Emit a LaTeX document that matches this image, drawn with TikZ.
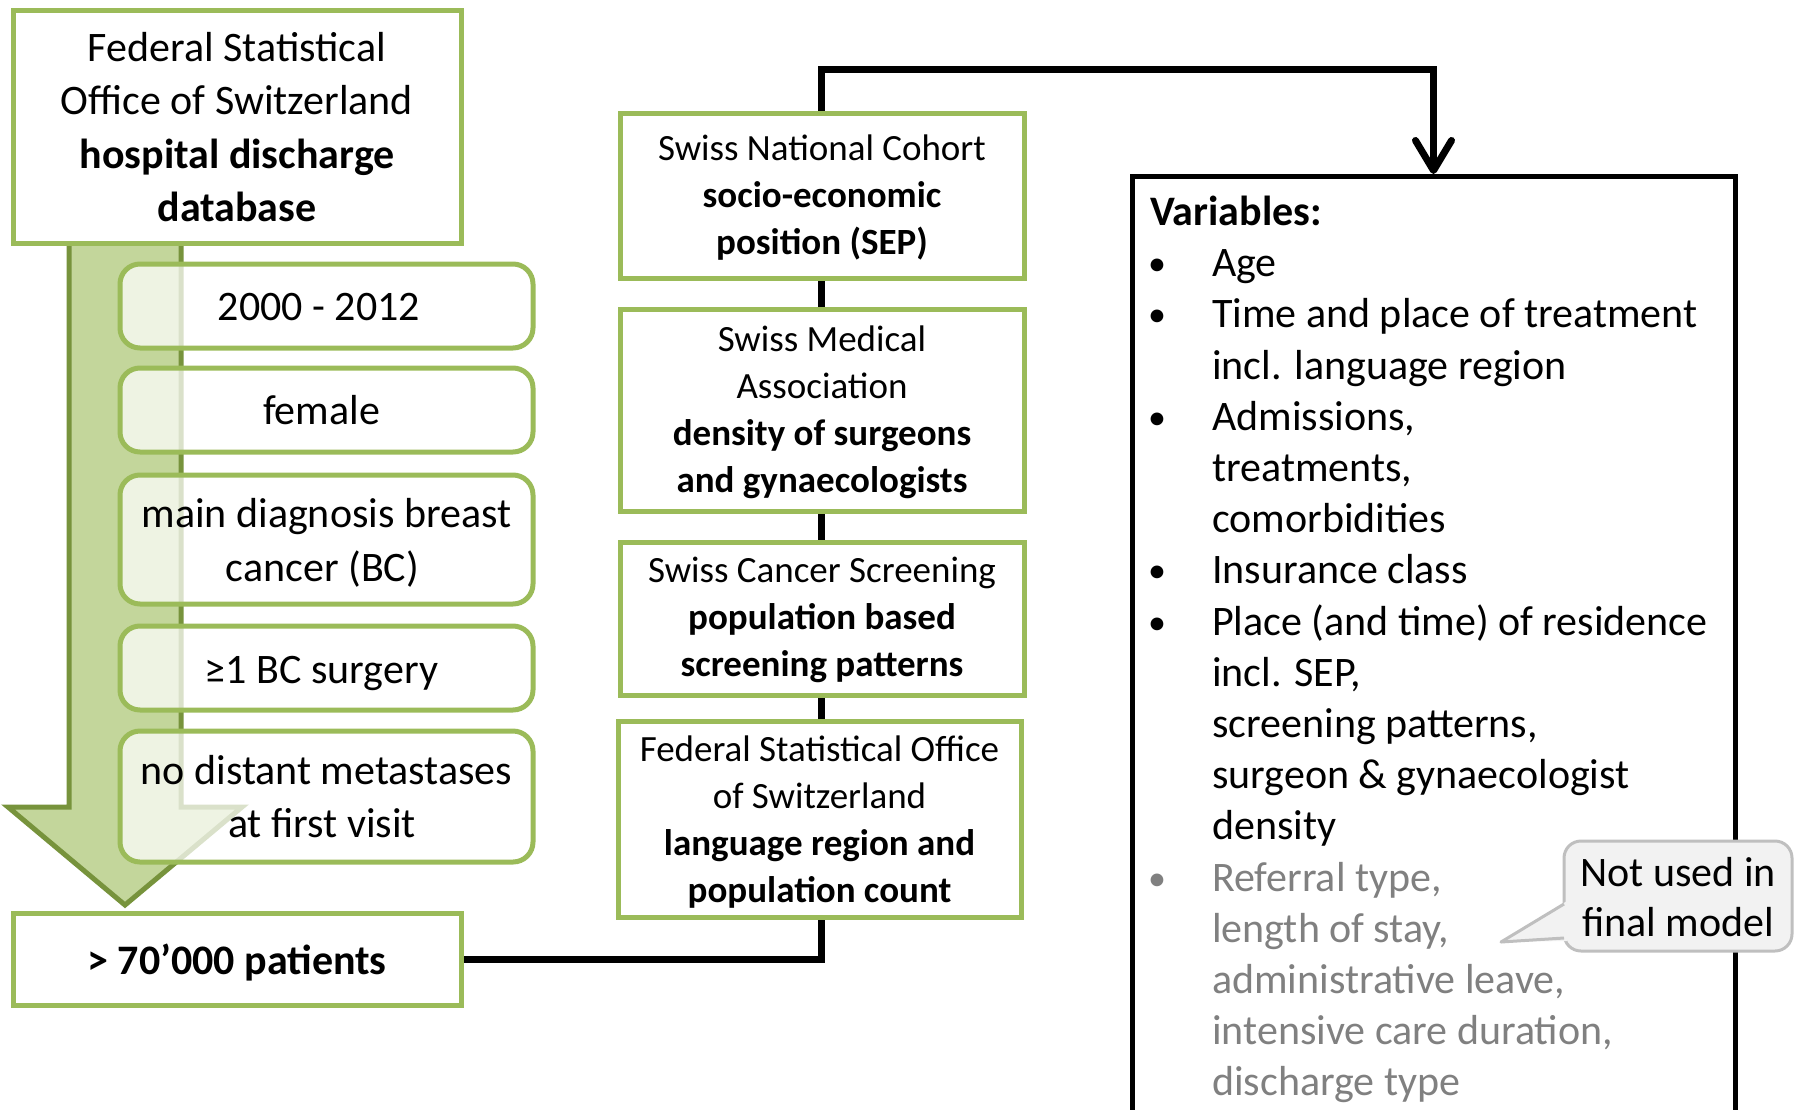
\documentclass[tikz,border=0pt]{standalone}
\usepackage{fontspec}
\setmainfont{Carlito}
\usetikzlibrary{arrows.meta}
\definecolor{boxgreen}{HTML}{9BBB59}
\definecolor{arrowfill}{HTML}{C3D69B}
\definecolor{arrowline}{HTML}{77933C}
\definecolor{greytext}{HTML}{808080}
\definecolor{notefill}{HTML}{F2F2F2}
\definecolor{noteline}{HTML}{BFBFBF}
\pgfdeclarelayer{background}
\pgfsetlayers{background,main}
\newcommand{\fntA}{\fontsize{42}{53.4}\selectfont}
\newcommand{\fntB}{\fontsize{37}{47}\selectfont}
\newcommand{\fntC}{\fontsize{42}{51.2}\selectfont}
\newcommand{\fntD}{\fontsize{42}{50}\selectfont}
\newcommand{\bul}{\makebox[62pt][l]{\hspace{-2pt}{\fontsize{36}{36}\selectfont\raisebox{1pt}{•}}}}
\newcommand{\ind}{\makebox[62pt][l]{}}
\newcommand{\nudge}[1]{\mbox{}\kern-#1pt}
\newcommand{\fl}[1]{\rule{0pt}{#1pt}}
\begin{document}
\begin{tikzpicture}[x=1pt,y=-1pt,
  topstrut/.style={execute at begin node={\rule{0pt}{#1pt}}, execute at end node=\strut},
  srcbox/.style={draw=boxgreen, line width=5pt, fill=white, align=center, inner sep=0pt},
  filtbox/.style={draw=boxgreen, line width=5pt, fill=white, fill opacity=0.73,
    text opacity=1, rounded corners=20pt, align=center, inner sep=0pt,
    minimum width=413pt, font=\fntA},
  midbox/.style={srcbox, minimum width=404pt, font=\fntB, topstrut=48},
  conn/.style={line width=7pt, black},
  bigarrow/.style={fill=arrowfill, draw=arrowline, line width=5pt},
  varbox/.style={draw=black, line width=5pt, minimum width=603pt, minimum height=1000pt, inner sep=0pt},
  notebox/.style={draw=noteline, fill=notefill, line width=3pt, rounded corners=17pt,
    minimum width=228pt, minimum height=110pt, align=center, inner sep=0pt, font=\fntD,
    topstrut=53}
]
\useasboundingbox (0,0) rectangle (1794,1109);
\clip (0,0) rectangle (1794,1109);

% left column
\node[srcbox, font=\fntA, topstrut=55, minimum width=448pt, minimum height=233pt] (hdb) at (237,126.5)
  {\fl{46}Federal Statistical\\Office of Switzerland\\\textbf{hospital discharge}\\\textbf{database}};
\node[filtbox, topstrut=46, minimum height=84pt] (f1) at (326.5,306) {\nudge{15}2000 - 2012};
\node[filtbox, topstrut=46, minimum height=84pt] (f2) at (326.5,410) {\nudge{10}female};
\node[filtbox, topstrut=55, minimum height=129pt] (f3) at (326.5,539.5) {\fl{46}main diagnosis breast\\\nudge{8}cancer (BC)};
\node[filtbox, topstrut=46, minimum height=84pt] (f4) at (326.5,668) {\nudge{10}≥1 BC surgery};
\node[filtbox, topstrut=55, minimum height=131pt] (f5) at (326.5,796.5) {\fl{45}no distant metastases\\\nudge{9}at first visit};
\node[srcbox, font=\fntA, topstrut=46, minimum width=448pt, minimum height=92pt] (pat) at (237,959)
  {\textbf{> 70’000 patients}};

% middle column
\node[midbox, minimum height=165pt] (snc) at (822,195.5)
  {\fl{38}Swiss National Cohort\\\textbf{socio-economic}\\\textbf{position (SEP)}};
\node[midbox, minimum height=202pt] (sma) at (822,410)
  {\fl{38}Swiss Medical\\Association\\\textbf{density of surgeons}\\\textbf{and gynaecologists}};
\node[midbox, minimum height=153pt] (scs) at (822,618.5)
  {\fl{36}Swiss Cancer Screening\\\textbf{population based}\\\textbf{screening patterns}};
\node[midbox, minimum width=403pt, minimum height=187pt] (fso) at (819.5,819.5)
  {\fl{40}Federal Statistical Office\\of Switzerland\\\textbf{language region and}\\\textbf{population count}};

% variables box
\node[varbox, anchor=north] (vars) at (1433.5,174) {};
\node[anchor=north west, align=left, inner sep=0pt, font=\fntC] (vtext) at (1150,189.5)
 {\strut\textbf{Variables:}\\
  \bul Age\\
  \bul Time and place of treatment\\
  \ind incl. language region\\
  \bul Admissions,\\
  \ind treatments,\\
  \ind comorbidities\\
  \bul Insurance class\\
  \bul Place (and time) of residence\\
  \ind incl. SEP,\\
  \ind screening patterns,\\
  \ind surgeon \& gynaecologist\\
  \ind density\\
  {\color{greytext}\bul Referral type,}\\
  {\color{greytext}\ind length of stay,}\\
  {\color{greytext}\ind administrative leave,}\\
  {\color{greytext}\ind intensive care duration,}\\
  {\color{greytext}\ind discharge type}};

% callout
\node[notebox] (note) at (1678,896) {\fl{45}Not used in\\final model};
\fill[notefill] (1567,901) -- (1501,942) -- (1567,941) -- cycle;
\draw[noteline, line width=3pt, line join=round] (1564,904) -- (1501,942) -- (1564,938);

\coordinate (ctop) at (821.5,69);
\coordinate (ctopr) at (1433.5,69);

\begin{pgfonlayer}{background}
  \draw[bigarrow] (69,240) -- (69,807) -- (8,807) -- (125,905) -- (242,807) -- (181,807) -- (181,240);
  \draw[conn, -{Straight Barb[length=30pt, width=36pt, round]}]
    (pat.east) -| (ctop) -- (ctopr) -- (vars.north);
\end{pgfonlayer}
\end{tikzpicture}
\end{document}
